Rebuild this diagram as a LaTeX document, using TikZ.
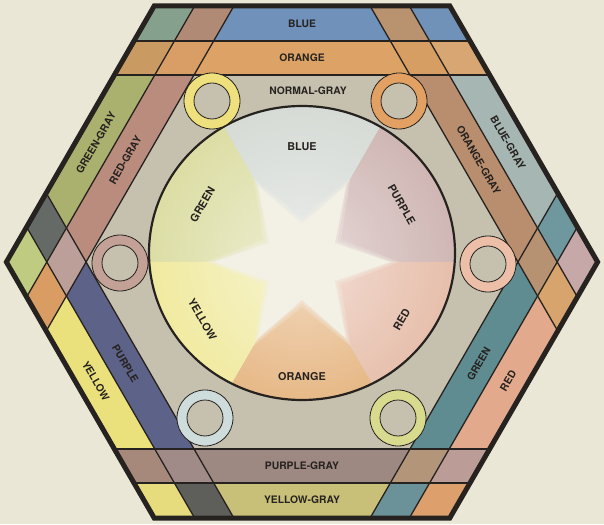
\documentclass[tikz,border=0pt]{standalone}
\usepackage{fontspec}
\setmainfont{TeX Gyre Heros}
\usetikzlibrary{fadings}
\definecolor{paper}{HTML}{EAE7D6}
\definecolor{normalgray}{HTML}{C5C1AE}
\definecolor{inkdark}{HTML}{26221F}
\definecolor{starwhite}{HTML}{F3F0E6}
% bands
\definecolor{bandblue}{HTML}{6F91BA}
\definecolor{bandorange}{HTML}{DCA266}
\definecolor{bandgreengray}{HTML}{AAB06E}
\definecolor{bandredgray}{HTML}{B98C7E}
\definecolor{bandbluegray}{HTML}{A6B6B2}
\definecolor{bandorangegray}{HTML}{B88E6F}
\definecolor{bandyellow}{HTML}{EAE07C}
\definecolor{bandpurple}{HTML}{5D6289}
\definecolor{bandgreen}{HTML}{5F8C91}
\definecolor{bandred}{HTML}{E2A98D}
\definecolor{bandpurplegray}{HTML}{9E8882}
\definecolor{bandyellowgray}{HTML}{C8BF78}
% circle sectors
\definecolor{secblue}{HTML}{CDD3CD}
\definecolor{secpurple}{HTML}{C4A5A2}
\definecolor{secred}{HTML}{E1AE96}
\definecolor{secorange}{HTML}{E0A362}
\definecolor{secyellow}{HTML}{EDE588}
\definecolor{secgreen}{HTML}{D4D68F}
% rings
\definecolor{ringyellow}{HTML}{EEE07C}
\definecolor{ringorange}{HTML}{E3A063}
\definecolor{ringredgray}{HTML}{C4A196}
\definecolor{ringpeach}{HTML}{EDBFA8}
\definecolor{ringbluegray}{HTML}{CFDCDC}
\definecolor{ringyellowgreen}{HTML}{D8DA8E}

\def\dI{187}
\def\dM{221}
\def\dO{270}
\def\hR{295.6}

% #1 rotation of band A, #2-#3 its range, #4 rotation of band B, #5-#6 its range, #7 hex colour
\newcommand{\crosscell}[7]{%
  \begin{scope}
    \definecolor{cellcol}{HTML}{#7}%
    \clip[rotate=#1] (-350,#2) rectangle (350,#3);
    \fill[cellcol,rotate=#4] (-350,#5) rectangle (350,#6);
  \end{scope}}

% six pointed star, #1 outer radius, #2 inner radius
\newcommand{\starpath}[2]{(0:#1)
  \foreach \a in {30,90,...,330} {-- (\a:#2) -- (\a+30:#1)} -- cycle}

\tikzfading[name=glowfade, inner color=transparent!0, outer color=transparent!100]

\tikzset{
  bandline/.style={inkdark,line width=1.3pt},
  ringline/.style={inkdark,line width=0.8pt},
  lbl/.style={font=\bfseries\fontsize{10.3}{12}\selectfont,text=inkdark,inner sep=0pt},
  clbl/.style={lbl,font=\bfseries\fontsize{10.8}{12}\selectfont},
}

\begin{document}
\begin{tikzpicture}[x=1pt,y=1pt]
  \fill[paper] (-302,-262) rectangle (302,262);
  \useasboundingbox (-302,-262) rectangle (302,262);

  \coordinate (h0) at (0:\hR);
  \coordinate (h1) at (60:\hR);
  \coordinate (h2) at (120:\hR);
  \coordinate (h3) at (180:\hR);
  \coordinate (h4) at (240:\hR);
  \coordinate (h5) at (300:\hR);

  \begin{scope}
    \clip (h0) -- (h1) -- (h2) -- (h3) -- (h4) -- (h5) -- cycle;
    \fill[normalgray] (-310,-270) rectangle (310,270);

    % outer and inner bands, one side after the other
    \fill[bandblue]       (-350,\dM) rectangle (350,\dO);
    \fill[bandorange]     (-350,\dI) rectangle (350,\dM);
    \fill[bandgreengray,rotate=60]  (-350,\dM) rectangle (350,\dO);
    \fill[bandredgray,rotate=60]    (-350,\dI) rectangle (350,\dM);
    \fill[bandyellow,rotate=120]    (-350,\dM) rectangle (350,\dO);
    \fill[bandpurple,rotate=120]    (-350,\dI) rectangle (350,\dM);
    \fill[bandyellowgray,rotate=180] (-350,\dM) rectangle (350,\dO);
    \fill[bandpurplegray,rotate=180] (-350,\dI) rectangle (350,\dM);
    \fill[bandred,rotate=240]       (-350,\dM) rectangle (350,\dO);
    \fill[bandgreen,rotate=240]     (-350,\dI) rectangle (350,\dM);
    \fill[bandbluegray,rotate=300]  (-350,\dM) rectangle (350,\dO);
    \fill[bandorangegray,rotate=300] (-350,\dI) rectangle (350,\dM);

    % where the bands cross
    \crosscell{0}{\dM}{\dO}{60}{\dM}{\dO}{85A08C}
    \crosscell{0}{\dM}{\dO}{60}{\dI}{\dM}{B18A76}
    \crosscell{0}{\dI}{\dM}{60}{\dM}{\dO}{C99A62}
    \crosscell{0}{\dI}{\dM}{60}{\dI}{\dM}{D99E66}

    \crosscell{60}{\dM}{\dO}{120}{\dM}{\dO}{BFCB80}
    \crosscell{60}{\dM}{\dO}{120}{\dI}{\dM}{666A66}
    \crosscell{60}{\dI}{\dM}{120}{\dM}{\dO}{D99C63}
    \crosscell{60}{\dI}{\dM}{120}{\dI}{\dM}{BC9F98}

    \crosscell{180}{\dM}{\dO}{120}{\dM}{\dO}{E6DC7E}
    \crosscell{180}{\dM}{\dO}{120}{\dI}{\dM}{5E5F5B}
    \crosscell{180}{\dI}{\dM}{120}{\dM}{\dO}{A6897A}
    \crosscell{180}{\dI}{\dM}{120}{\dI}{\dM}{A18B88}

    \crosscell{180}{\dM}{\dO}{240}{\dM}{\dO}{DDA06C}
    \crosscell{180}{\dM}{\dO}{240}{\dI}{\dM}{6A9298}
    \crosscell{180}{\dI}{\dM}{240}{\dM}{\dO}{BB9C96}
    \crosscell{180}{\dI}{\dM}{240}{\dI}{\dM}{B39579}

    \crosscell{300}{\dM}{\dO}{240}{\dM}{\dO}{C6A8A9}
    \crosscell{300}{\dM}{\dO}{240}{\dI}{\dM}{6E989D}
    \crosscell{300}{\dI}{\dM}{240}{\dM}{\dO}{D7A46D}
    \crosscell{300}{\dI}{\dM}{240}{\dI}{\dM}{B69273}

    \crosscell{0}{\dM}{\dO}{300}{\dM}{\dO}{7192B8}
    \crosscell{0}{\dM}{\dO}{300}{\dI}{\dM}{B9926F}
    \crosscell{0}{\dI}{\dM}{300}{\dM}{\dO}{D8A672}
    \crosscell{0}{\dI}{\dM}{300}{\dI}{\dM}{D69E63}

    \foreach \r in {0,60,...,300}
      \draw[bandline,rotate=\r] (-350,\dI) -- (350,\dI) (-350,\dM) -- (350,\dM);
  \end{scope}

  % the colour circle
  \begin{scope}
    \clip (0,9) ellipse [x radius=153, y radius=147];
    \fill[secpurple] (0,0) -- (0:220) arc (0:60:220) -- cycle;
    \fill[secblue]   (0,0) -- (60:220) arc (60:120:220) -- cycle;
    \fill[secgreen]  (0,0) -- (120:220) arc (120:180:220) -- cycle;
    \fill[secyellow] (0,0) -- (180:220) arc (180:240:220) -- cycle;
    \fill[secorange] (0,0) -- (240:220) arc (240:300:220) -- cycle;
    \fill[secred]    (0,0) -- (300:220) arc (300:360:220) -- cycle;
    \fill[white,path fading=glowfade,opacity=0.6] (0,0) circle (230);
    \fill[starwhite,opacity=0.3] \starpath{97}{45};
    \fill[starwhite,opacity=0.4] \starpath{92}{41};
    \fill[starwhite] \starpath{88}{38};
  \end{scope}
  \draw[inkdark,line width=2.2pt] (0,9) ellipse [x radius=153, y radius=147];

  % rings
  \foreach \pos/\col in {(-90,161)/ringyellow, (97,161)/ringorange,
      (-182,-1)/ringredgray, (186,-2)/ringpeach,
      (-97,-156)/ringbluegray, (96,-156)/ringyellowgreen} {
    \fill[\col,even odd rule] \pos circle (28) \pos circle (18);
    \draw[ringline] \pos circle (28) \pos circle (18);
  }

  \draw[inkdark,line width=5pt,line join=miter]
    (h0) -- (h1) -- (h2) -- (h3) -- (h4) -- (h5) -- cycle;

  % band labels
  \node[lbl] (blue) at (90:238) {BLUE};
  \node[lbl] (orange) at (90:204) {ORANGE};
  \node[lbl,rotate=60] (greengray) at (150:238) {GREEN-GRAY};
  \node[lbl,rotate=60] (redgray) at (150:204) {RED-GRAY};
  \node[lbl,rotate=-60] (bluegray) at (30:238) {BLUE-GRAY};
  \node[lbl,rotate=-60] (orangegray) at (30:204) {ORANGE-GRAY};
  \node[lbl,rotate=-60] (yellow) at (210:238) {YELLOW};
  \node[lbl,rotate=-60] (purple) at (210:204) {PURPLE};
  \node[lbl,rotate=60] (green) at (330:204) {GREEN};
  \node[lbl,rotate=60] (red) at (330:238) {RED};
  \node[lbl] (purplegray) at (270:204) {PURPLE-GRAY};
  \node[lbl] (yellowgray) at (270:238) {YELLOW-GRAY};
  \node[lbl] (normalgray) at (6,171) {NORMAL-GRAY};

  % circle labels
  \node[clbl] (cblue) at (90:115) {BLUE};
  \node[clbl,rotate=-60] (cpurple) at (30:115) {PURPLE};
  \node[clbl,rotate=60] (cred) at (-30:115) {RED};
  \node[clbl] (corange) at (-90:115) {ORANGE};
  \node[clbl,rotate=-60] (cyellow) at (210:115) {YELLOW};
  \node[clbl,rotate=60] (cgreen) at (150:115) {GREEN};
\end{tikzpicture}
\end{document}
